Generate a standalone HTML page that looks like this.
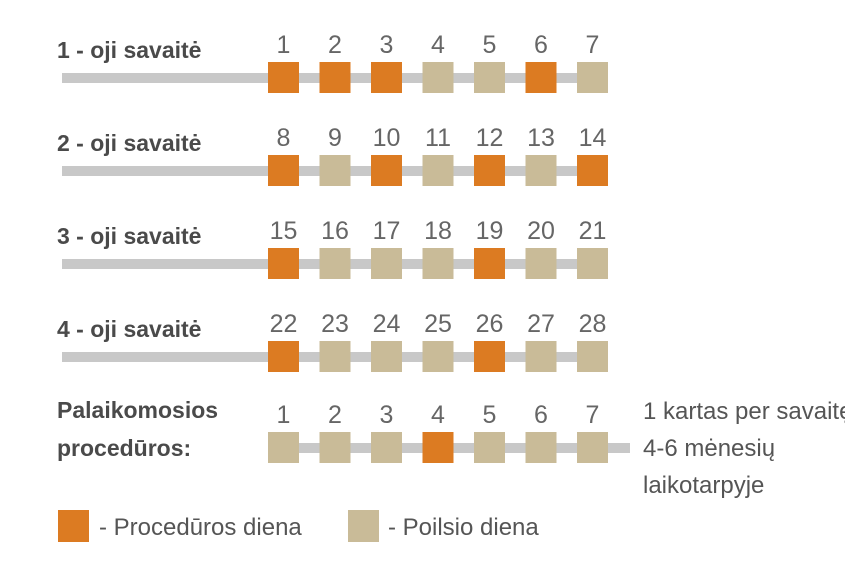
<!DOCTYPE html>
<html><head><meta charset="utf-8"><style>
body{margin:0;background:#fff;width:845px;height:573px;overflow:hidden}
svg text{font-family:"Liberation Sans Narrow","Liberation Sans",sans-serif;fill:#555}
.lbl{font-weight:bold;font-size:23px;fill:#4a4a4a}
.num{font-size:25px;fill:#666}
.txt{font-size:24px;fill:#555}
</style></head><body>
<svg id="c" width="845" height="573" xmlns="http://www.w3.org/2000/svg"></svg>
<script>
const rowLabels=["1 - oji savaitė","2 - oji savaitė","3 - oji savaitė","4 - oji savaitė"];
const dayNumbers=[[1,2,3,4,5,6,7],[8,9,10,11,12,13,14],[15,16,17,18,19,20,21],[22,23,24,25,26,27,28],[1,2,3,4,5,6,7]];
const treatmentDays=[[1,1,1,0,0,1,0],[1,0,1,0,1,0,1],[1,0,0,0,1,0,0],[1,0,0,0,1,0,0],[0,0,0,1,0,0,0]];
const NS="http://www.w3.org/2000/svg";
const svg=document.getElementById('c');
const ORANGE="#dc7b22",TAN="#c9bb98",GRAY="#c8c8c8";
function colX(i){return 268+i*51.5;}
function rowY(r){return [62,155,248,341,432][r];}
function mk(tag,attrs,txt){const e=document.createElementNS(NS,tag);for(const k in attrs)e.setAttribute(k,attrs[k]);if(txt!==undefined)e.textContent=txt;svg.appendChild(e);return e;}
for(let r=0;r<5;r++){
  const y=rowY(r);
  const bar=mk('rect',{x:r<4?62:268,y:y+11,width:r<4?546:362,height:10,fill:GRAY});
  
  
  if(r<4){
    const t=mk('text',{x:57,y:y-4,class:'lbl'},rowLabels[r]);
    
    
  }
  for(let i=0;i<7;i++){
    const s=mk('rect',{x:colX(i),y:y,width:31,height:31,fill:treatmentDays[r][i]?ORANGE:TAN});
    
    
    const n=mk('text',{x:colX(i)+15.5,y:y-9,'text-anchor':'middle',class:'num'},dayNumbers[r][i]);
    
    
  }
}
let t;
t=mk('text',{x:57,y:418,class:'lbl'},"Palaikomosios");


t=mk('text',{x:57,y:456,class:'lbl'},"procedūros:");


const notes=["1 kartas per savaitę","4-6 mėnesių","laikotarpyje"];
notes.forEach((s,i)=>{const e=mk('text',{x:643,y:419+i*37,class:'txt'},s);

});
t=mk('rect',{x:58,y:510,width:31,height:32,fill:ORANGE});


t=mk('text',{x:99,y:535,class:'txt'},"- Procedūros diena");


t=mk('rect',{x:348,y:510,width:31,height:32,fill:TAN});


t=mk('text',{x:388,y:535,class:'txt'},"- Poilsio diena");


</script>
</body></html>
